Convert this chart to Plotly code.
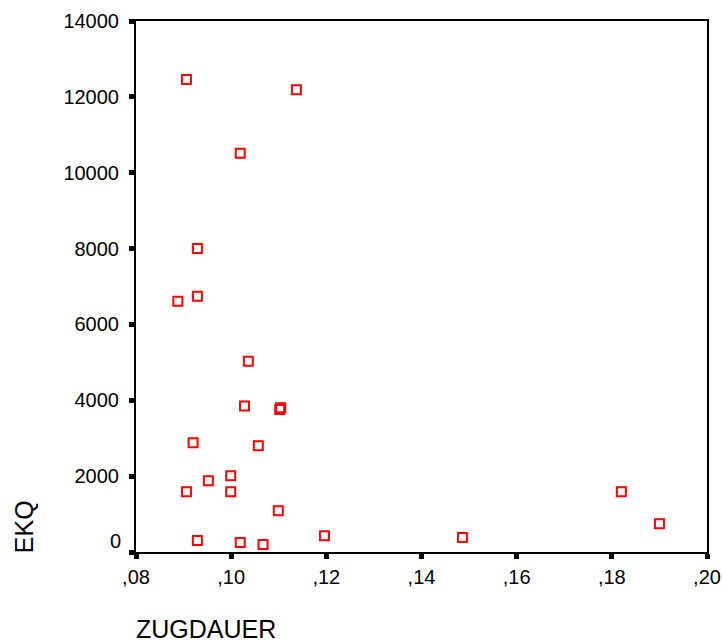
import plotly.graph_objects as go

# Data
zugdauer = [0.0906, 0.1137, 0.1019, 0.0929, 0.0888, 0.0929, 0.1036, 0.1028,
            0.1102, 0.1104, 0.0920, 0.1057, 0.0999, 0.0952, 0.0906, 0.0999,
            0.1099, 0.1196, 0.0929, 0.1019, 0.1067, 0.1486, 0.1820, 0.1900]
ekq = [12460, 12190, 10510, 8000, 6610, 6740, 5030, 3850,
       3760, 3800, 2880, 2800, 2010, 1880, 1590, 1590,
       1090, 430, 300, 250, 195, 380, 1590, 745]

x_tickvals = [0.08, 0.10, 0.12, 0.14, 0.16, 0.18, 0.20]
x_ticktext = [",08", ",10", ",12", ",14", ",16", ",18", ",20"]
y_tickvals = [0, 2000, 4000, 6000, 8000, 10000, 12000, 14000]
y_ticktext = ["", "2000", "4000", "6000", "8000", "10000", "12000", "14000"]

FONT = "Liberation Sans, Arial, sans-serif"

fig = go.Figure()
fig.add_trace(go.Scatter(
    x=zugdauer, y=ekq, mode="markers",
    marker=dict(symbol="square-open", size=9, color="#ff0000",
                line=dict(width=2, color="#ff0000")),
    showlegend=False, cliponaxis=False,
))

axis_common = dict(
    showgrid=False, zeroline=False, showline=True, linecolor="black",
    linewidth=2, mirror=True, ticks="outside", ticklen=5, tickwidth=5,
    tickcolor="black", tickfont=dict(family=FONT, size=20, color="black"),
    automargin=False,
)

fig.update_xaxes(range=[0.08, 0.20], tickvals=x_tickvals, ticktext=x_ticktext,
                 ticklabelstandoff=1, **axis_common)
fig.update_yaxes(range=[0, 14000], tickvals=y_tickvals, ticktext=y_ticktext,
                 ticklabelstandoff=6, **axis_common)

fig.add_annotation(text="0", xref="paper", yref="y", x=0, y=0, xanchor="right",
                   yanchor="middle", xshift=-13, yshift=11, showarrow=False,
                   font=dict(family=FONT, size=20, color="black"))
fig.add_annotation(text="EKQ", xref="paper", yref="paper", x=-0.196, y=0.047,
                   textangle=-90, xanchor="center", yanchor="middle",
                   showarrow=False, font=dict(family=FONT, size=25, color="black"))
fig.add_annotation(text="ZUGDAUER", xref="paper", yref="paper", x=-0.004, y=-0.145,
                   xanchor="left", yanchor="middle",
                   showarrow=False, font=dict(family=FONT, size=25, color="black"))

fig.update_layout(
    width=722, height=643,
    margin=dict(l=136, r=15, t=21, b=91),
    plot_bgcolor="white", paper_bgcolor="white",
    font=dict(family=FONT, color="black"),
)

fig.write_html("out.html")
